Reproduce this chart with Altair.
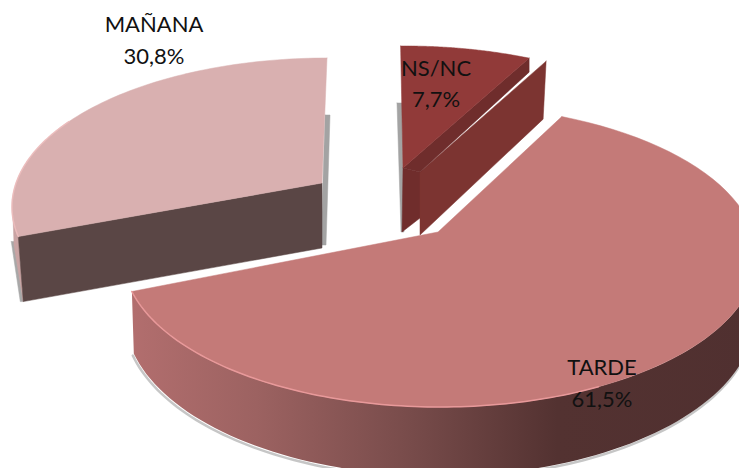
import numpy as np
import pandas as pd
import altair as alt

# ---- chart values
categories = ["MAÑANA", "NS/NC", "TARDE"]
values = [30.8, 7.7, 61.5]

# ---- drawing geometry of the 3D pie (image pixels)
MAN = dict(c=(327, 207), r=(315, 149), start=270.0, stretch=-0.915, hub=(322, 183))
NSC = dict(c=(405, 196), r=(315, 150), start=-90.8, stretch=0.866, hub=(403, 168))
TAR = dict(c=(440, 256), r=(317, 151), start=-67.4, stretch=1.056, hub=(438, 232))
TAR_BOTTOM = dict(c=(440, 316), r=(315, 160))


def ell(e, deg):
    t = np.radians(deg)
    return e["c"][0] + e["r"][0] * np.cos(t), e["c"][1] + e["r"][1] * np.sin(t)


def arc(e, a, b, n=90):
    return [ell(e, d) for d in np.linspace(a, b, n)]


def shift(p, dx, dy):
    return (p[0] + dx, p[1] + dy)


man_end = MAN["start"] + 3.6 * values[0] * MAN["stretch"]
nsc_end = NSC["start"] + 3.6 * values[1] * NSC["stretch"]
tar_end = TAR["start"] + 3.6 * values[2] * TAR["stretch"]

man_rim = ell(MAN, man_end)
man_hub = MAN["hub"]
nsc_rim = ell(NSC, nsc_end)
nsc_hub = NSC["hub"]
tar_hub = TAR["hub"]

man_arc = arc(MAN, MAN["start"], man_end)
nsc_arc = arc(NSC, NSC["start"], nsc_end)
tar_arc = arc(TAR, TAR["start"], tar_end)

layers_spec = [
    # name, points, fill, stroke, strokeWidth, opacity
    ("shadow_man", [(325, 115), (330, 115), (326, 245), (321, 245)], "#a3a3a3", None, 0, 1),
    ("shadow_man2", [shift(man_rim, -7, 5), shift(man_rim, -4, 5), shift(man_rim, 5, 65), shift(man_rim, 2, 65)], "#a8a8a8", None, 0, 1),
    ("shadow_nsc", [(397, 103), (402, 103), (404, 232), (401, 232)], "#a3a3a3", None, 0, 1),
    ("shadow_tar", [shift(ell(TAR_BOTTOM, d), -1, 2) for d in np.linspace(-5, tar_end, 120)], None, "#a0a0a0", 2.5, 0.6),
    # MAÑANA
    ("man_sliver", [ell(MAN, 183), man_rim, shift(man_rim, 5, 65), (14, 245)], "#c9a3a3", None, 0, 1),
    ("man_side", [man_rim, man_hub, shift(man_hub, 0, 65), shift(man_rim, 5, 65)], "#5a4645", None, 0, 1),
    ("man_top", man_arc + [man_hub], "#d9b0b0", None, 0, 1),
    # NS/NC
    ("nsc_left", [nsc_hub, shift(nsc_hub, 17, 4), shift(nsc_hub, 17, 50), shift(nsc_hub, -1, 64)], "#702d2c", None, 0, 1),
    ("nsc_face", [shift(nsc_rim, 17, 3), shift(nsc_rim, 14, 61), shift(nsc_hub, 17, 67), shift(nsc_hub, 17, 4)], "#7c3431", None, 0, 1),
    ("nsc_strip", [nsc_rim, shift(nsc_rim, 0, 14), shift(nsc_hub, 17, 4), nsc_hub], "#6f2d2c", None, 0, 1),
    ("nsc_top", nsc_arc + [nsc_hub], "#913a39", None, 0, 1),
    # TARDE
    ("tar_side", arc(TAR, tar_end, -5) + arc(TAR_BOTTOM, -5, tar_end), "grad", None, 0, 1),
    ("tar_top", tar_arc + [tar_hub], "#c47a78", None, 0, 1),
    ("tar_rim", arc(TAR, 60, tar_end), None, "#e8999a", 1.5, 1),
    ("man_rimline", arc(MAN, 215, man_end), None, "#ecbcbc", 1.5, 0.9),
]

side_gradient = alt.LinearGradient(
    gradient="linear",
    x1=0, x2=1, y1=0, y2=0,
    stops=[
        alt.GradientStop(color="#b26e6e", offset=0),
        alt.GradientStop(color="#9c6261", offset=0.2),
        alt.GradientStop(color="#774b4a", offset=0.45),
        alt.GradientStop(color="#533231", offset=0.68),
        alt.GradientStop(color="#503030", offset=1),
    ],
)

x_scale = alt.Scale(domain=[8, 739], nice=False, zero=False)
y_scale = alt.Scale(domain=[468, 8], nice=False, zero=False)
X = alt.X("x:Q", scale=x_scale, axis=None)
Y = alt.Y("y:Q", scale=y_scale, axis=None)

charts = []
for name, pts, fill, stroke, sw, op in layers_spec:
    closed = pts + [pts[0]] if fill else pts
    d = pd.DataFrame({"x": [p[0] for p in closed], "y": [p[1] for p in closed], "i": range(len(closed))})
    kw = dict(clip=True, opacity=op, interpolate="linear", strokeCap="round")
    if fill == "grad":
        kw.update(fill=side_gradient, stroke="#7a4a4a", strokeWidth=0, filled=True)
    elif fill:
        kw.update(fill=fill, stroke=fill, strokeWidth=0.5, filled=True)
    else:
        kw.update(stroke=stroke, strokeWidth=sw)
    charts.append(alt.Chart(d).mark_line(**kw).encode(x=X, y=Y, order=alt.Order("i:Q")))

# labels
label_pos = {"MAÑANA": (154, 25, 57), "NS/NC": (436, 69, 100), "TARDE": (602, 368, 400)}
rows = []
for c, v in zip(categories, values):
    x0, y1, y2 = label_pos[c]
    rows.append({"x": x0, "y": y1, "t": c})
    rows.append({"x": x0, "y": y2, "t": f"{v:.1f}%".replace(".", ",")})
labels = alt.Chart(pd.DataFrame(rows)).mark_text(
    font="Lato", fontSize=22, color="#111111", align="center", baseline="middle"
).encode(x=X, y=Y, text="t:N")

chart = alt.layer(*charts, labels).properties(
    width=731, height=460, padding=0, background="white",
    autosize=alt.AutoSizeParams(type="none"),
).configure_view(stroke=None)

chart.save("out.html", embed_options={"renderer": "svg", "actions": False})
